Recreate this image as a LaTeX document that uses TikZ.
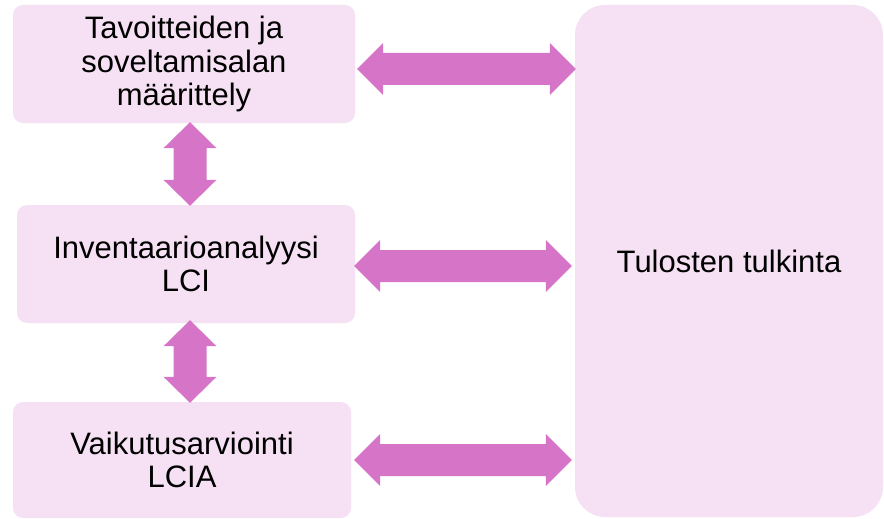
\documentclass[tikz,border=0pt]{standalone}
\usepackage{fontspec}
\setmainfont{Liberation Sans}
\usetikzlibrary{calc}
\definecolor{boxfill}{HTML}{F5E1F3}
\definecolor{linkfill}{HTML}{D674C7}
\begin{document}
\begin{tikzpicture}[x=1pt,y=-1pt,
  stage/.style={fill=boxfill, rounded corners=10pt, align=center,
    font=\fontsize{31}{33.5}\selectfont, inner sep=0pt},
  % fat double-headed arrow, horizontal, at the height of the start point
  hlink/.style={fill=linkfill, to path={let \p1=(\tikztostart), \p2=(\tikztotarget) in
    (\x1,\y1) -- (\x1+26pt,\y1+26pt) -- (\x1+26pt,\y1+16pt) -- (\x2-26pt,\y1+16pt)
    -- (\x2-26pt,\y1+26pt) -- (\x2,\y1) -- (\x2-26pt,\y1-26pt) -- (\x2-26pt,\y1-16pt)
    -- (\x1+26pt,\y1-16pt) -- (\x1+26pt,\y1-26pt) -- cycle}},
  % fat double-headed arrow, vertical, at the x of the start point
  vlink/.style={fill=linkfill, to path={let \p1=(\tikztostart), \p2=(\tikztotarget) in
    (\x1,\y1) -- (\x1+26.5pt,\y1-26pt) -- (\x1+16.5pt,\y1-26pt) -- (\x1+16.5pt,\y2+26pt)
    -- (\x1+26.5pt,\y2+26pt) -- (\x1,\y2) -- (\x1-26.5pt,\y2+26pt) -- (\x1-16.5pt,\y2+26pt)
    -- (\x1-16.5pt,\y1-26pt) -- (\x1-26.5pt,\y1-26pt) -- cycle}}
]
\useasboundingbox (0,0) rectangle (884,519);

\node[stage, minimum width=342, minimum height=118] (goal) at (184,64)
  {Tavoitteiden ja\\soveltamisalan\\määrittely};
\node[stage, minimum width=338, minimum height=118] (lci) at (186,264)
  {Inventaarioanalyysi\\LCI};
\node[stage, minimum width=338, minimum height=116] (lcia) at (182,460)
  {Vaikutusarviointi\\LCIA};
\node[stage, rounded corners=30pt, minimum width=308, minimum height=512] (interp) at (729,261)
  {Tulosten tulkinta};

\path[hlink] ([xshift=2pt,yshift=-5pt]goal.east) to ([xshift=1pt]interp.west);
\path[hlink] ([xshift=-1pt,yshift=-2pt]lci.east) to ([xshift=-3pt]interp.west);
\path[hlink] ([xshift=3pt]lcia.east) to ([xshift=-3pt]interp.west);

\path[vlink] ([xshift=6pt,yshift=1pt]goal.south) to ([yshift=-1pt]lci.north);
\path[vlink] ([xshift=4pt,yshift=3pt]lci.south) to ([yshift=-1pt]lcia.north);
\end{tikzpicture}
\end{document}
